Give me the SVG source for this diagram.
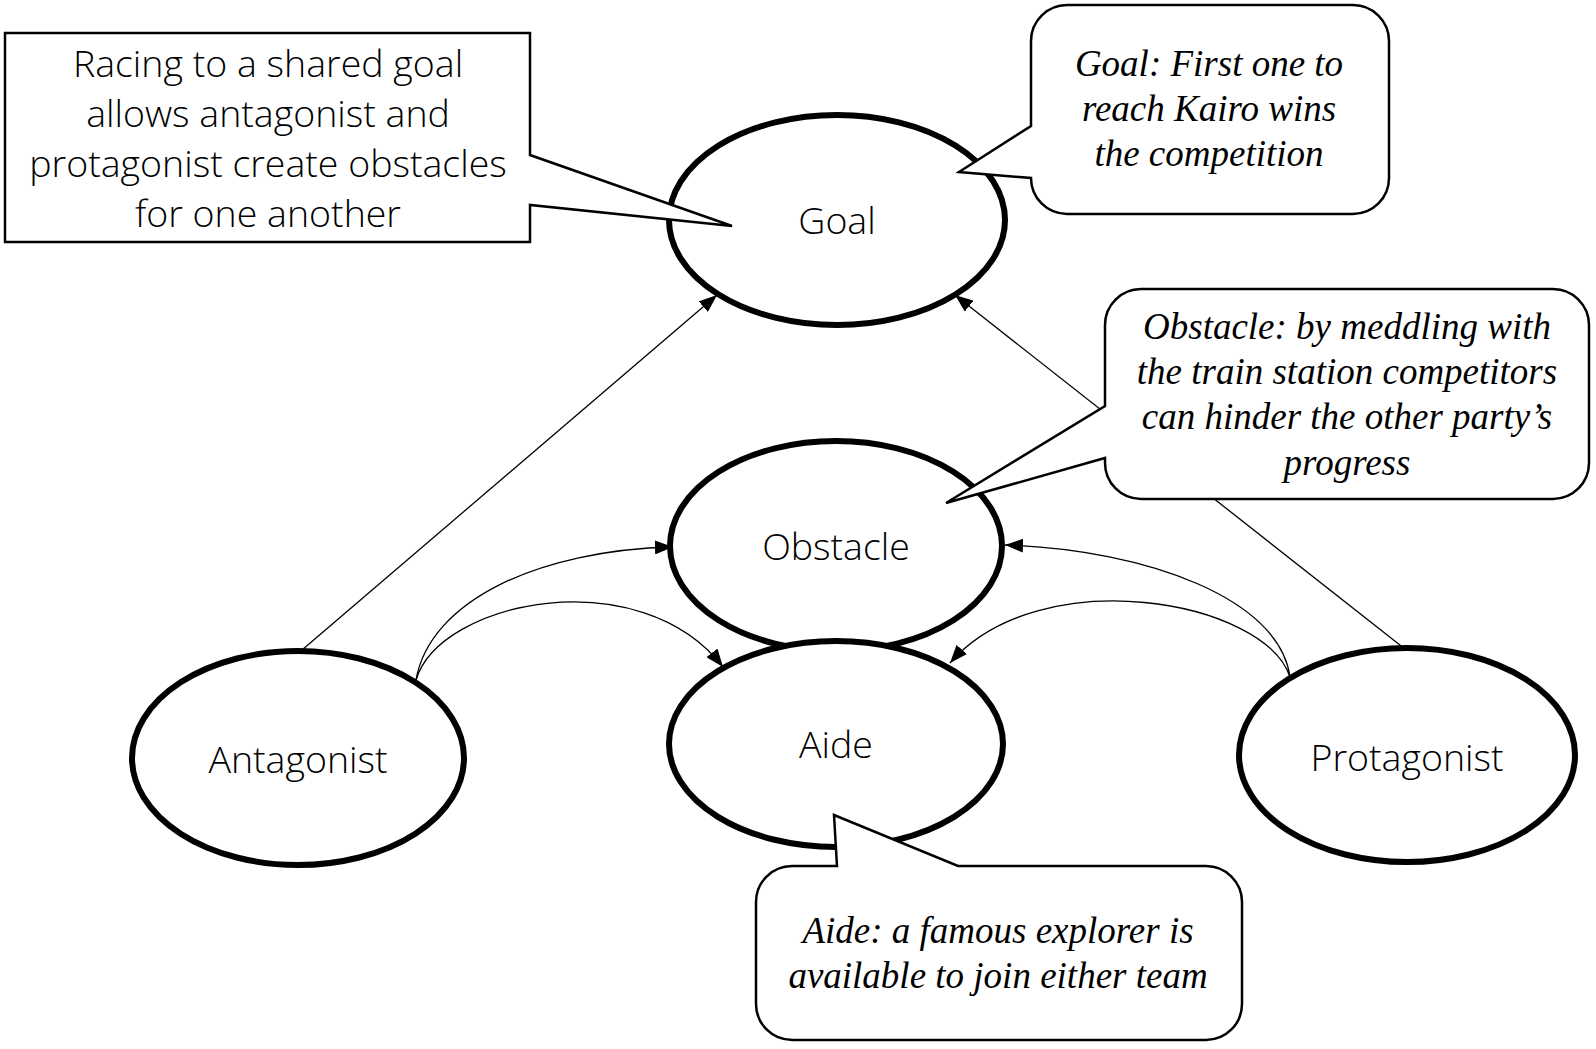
<svg xmlns="http://www.w3.org/2000/svg" width="1596" height="1049" viewBox="0 0 1596 1049">
  <defs>
    <marker id="arrow" markerUnits="userSpaceOnUse" markerWidth="18" markerHeight="14" refX="18" refY="7" orient="auto">
      <path d="M0,0 L18,7 L0,14 Z" fill="#000"/>
    </marker>
    <style>
      .node { fill: #fff; stroke: #000; stroke-width: 6; }
      .label { font-family: "Open Sans", "Liberation Sans", sans-serif; font-weight: 300; font-size: 37.5px; fill: #000; text-anchor: middle; }
      .note { font-family: "Liberation Serif", serif; font-style: italic; font-size: 37px; fill: #000; text-anchor: middle; }
      .callout { fill: #fff; stroke: #000; stroke-width: 2.5; stroke-linejoin: miter; }
      .link { fill: none; stroke: #000; stroke-width: 1.3; marker-end: url(#arrow); }
    </style>
  </defs>
  <rect width="1596" height="1049" fill="#fff"/>

  <!-- connectors -->
  <g id="connectors">
    <path class="link" d="M302,650 L717,295"/>
    <path class="link" d="M1405,649 L955,295"/>
    <path class="link" d="M416,680 C430,600 540,550 673,547"/>
    <path class="link" d="M416,680 C440,600 640,560 723,667"/>
    <path class="link" d="M1290,677 C1280,600 1150,550 1005,545"/>
    <path class="link" d="M1290,677 C1265,600 1040,560 950,663"/>
  </g>

  <!-- nodes -->
  <g id="goal">
    <ellipse class="node" cx="837" cy="220" rx="168" ry="105"/>
    <text class="label" x="837" y="234">Goal</text>
  </g>
  <g id="obstacle">
    <ellipse class="node" cx="836" cy="546" rx="166" ry="105"/>
    <text class="label" x="836" y="560">Obstacle</text>
  </g>
  <g id="aide">
    <ellipse class="node" cx="836" cy="744" rx="167" ry="103"/>
    <text class="label" x="836" y="758">Aide</text>
  </g>
  <g id="antagonist">
    <ellipse class="node" cx="298" cy="758" rx="166" ry="107"/>
    <text class="label" x="298" y="773">Antagonist</text>
  </g>
  <g id="protagonist">
    <ellipse class="node" cx="1407" cy="755" rx="168" ry="107"/>
    <text class="label" x="1407" y="771">Protagonist</text>
  </g>

  <!-- callouts -->
  <g id="note-racing">
    <path class="callout" d="M5,33 H530 V155 L732,226 L530,205 V242 H5 Z"/>
    <text class="label" x="268" y="77">Racing to a shared goal</text>
    <text class="label" x="268" y="127">allows antagonist and</text>
    <text class="label" x="268" y="177">protagonist create obstacles</text>
    <text class="label" x="268" y="227">for one another</text>
  </g>
  <g id="note-goal">
    <path class="callout" d="M1067,5 H1353 A36,36 0 0 1 1389,41 V178 A36,36 0 0 1 1353,214 H1067 A36,36 0 0 1 1031,178 L959,172 L1031,126 V41 A36,36 0 0 1 1067,5 Z"/>
    <text class="note" x="1209" y="76">Goal: First one to</text>
    <text class="note" x="1209" y="121">reach Kairo wins</text>
    <text class="note" x="1209" y="166">the competition</text>
  </g>
  <g id="note-obstacle">
    <path class="callout" d="M1141,289 H1553 A36,36 0 0 1 1589,325 V463 A36,36 0 0 1 1553,499 H1141 A36,36 0 0 1 1105,463 V458 L946,503 L1105,406 V325 A36,36 0 0 1 1141,289 Z"/>
    <text class="note" x="1347" y="339">Obstacle: by meddling with</text>
    <text class="note" x="1347" y="384">the train station competitors</text>
    <text class="note" x="1347" y="429">can hinder the other party’s</text>
    <text class="note" x="1347" y="475">progress</text>
  </g>
  <g id="note-aide">
    <path class="callout" d="M792,866 H837 L834,815 L958,866 H1206 A36,36 0 0 1 1242,902 V1004 A36,36 0 0 1 1206,1040 H792 A36,36 0 0 1 756,1004 V902 A36,36 0 0 1 792,866 Z"/>
    <text class="note" x="998" y="943">Aide: a famous explorer is</text>
    <text class="note" x="998" y="988">available to join either team</text>
  </g>
</svg>
